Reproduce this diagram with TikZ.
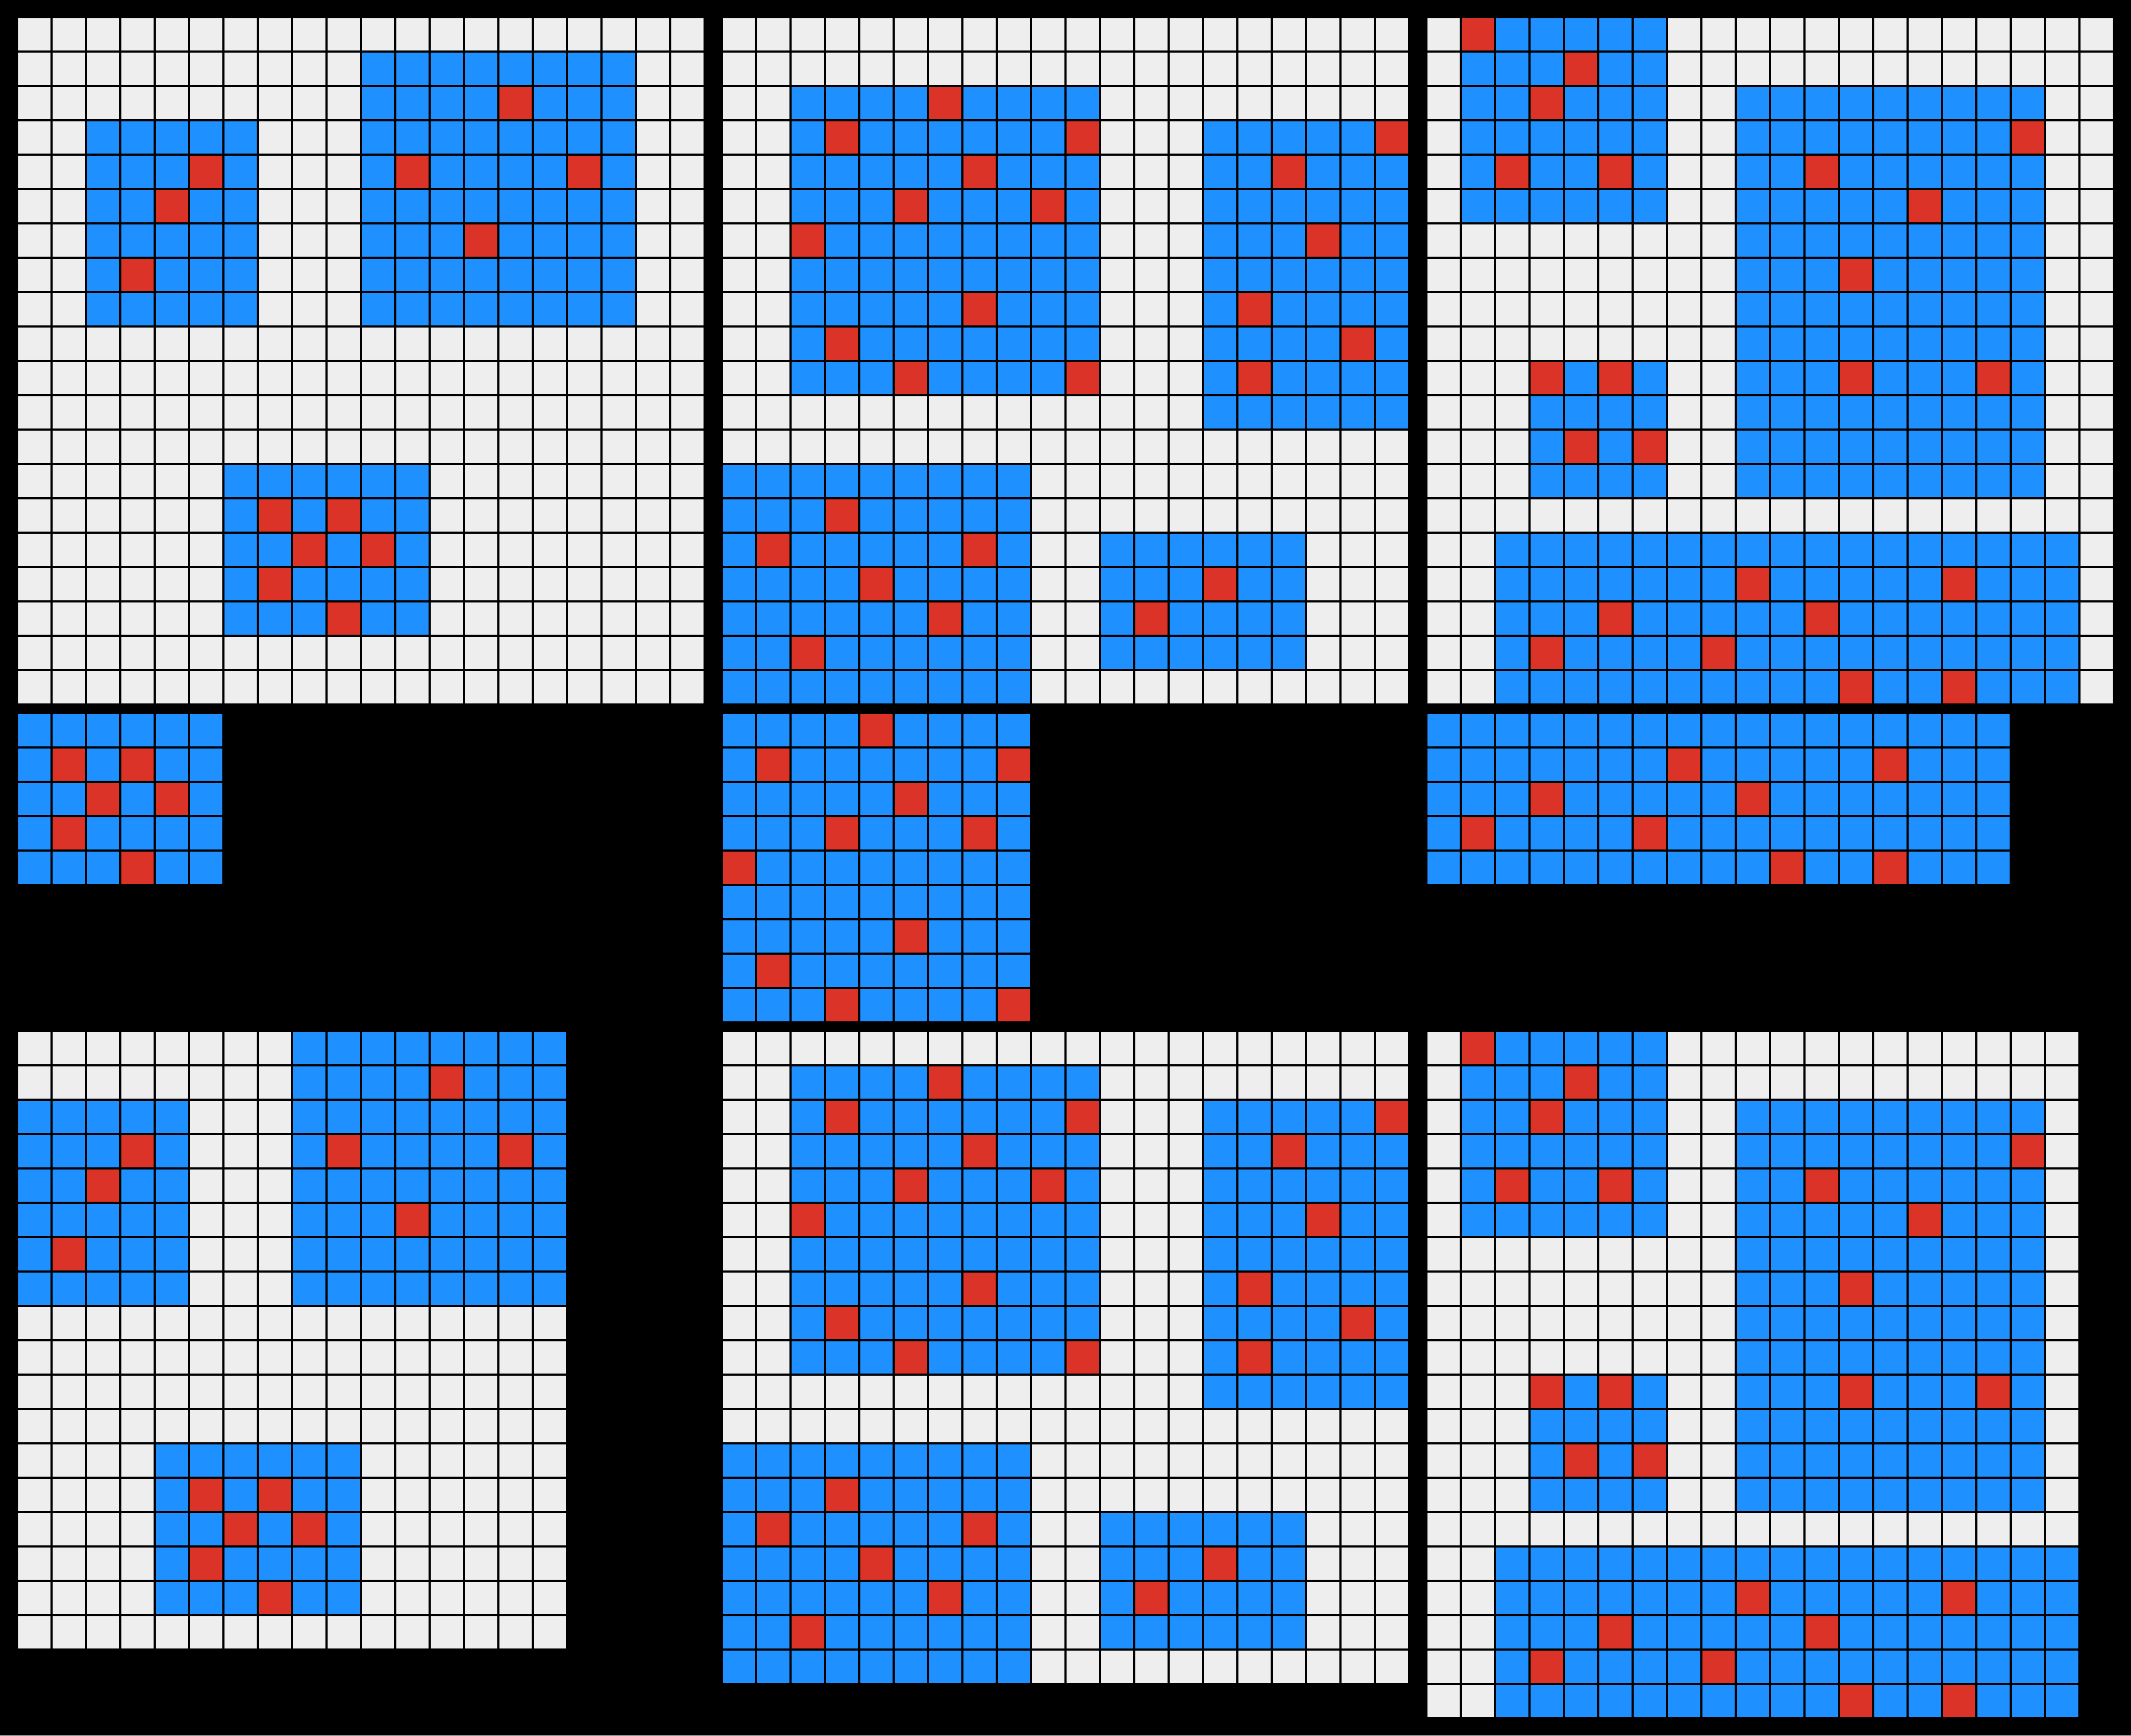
\documentclass[tikz,border=0pt]{standalone}
\usepackage{tikz}
\usepackage{xcolor}
\definecolor{cellgray}{RGB}{238,238,238}
\definecolor{cellblue}{RGB}{30,144,255}
\definecolor{cellred}{RGB}{220,51,40}

% grid helpers (cell units, rows counted downwards)
\newcommand{\gridlines}[2]{%
  \foreach \i in {0,...,#1} \draw[gridline] (\i,0) -- (\i,#2);
  \foreach \j in {0,...,#2} \draw[gridline] (0,\j) -- (#1,\j);}
\newcommand{\redcells}[1]{%
  \foreach \c/\r in {#1} \fill[redcell] (\c,\r) rectangle ++(1,1);}

\begin{document}
\begin{tikzpicture}[
        x=0.5cm, y=-0.5cm,
        bgcell/.style={fill=cellgray},
        bluecell/.style={fill=cellblue},
        redcell/.style={fill=cellred},
        gridline/.style={draw=black, line width=0.7pt}
    ]
        \fill[black] (0,0) rectangle (62,50.5);

        % Example 1 input
        \begin{scope}[shift={(0.5,0.5)}]
            \fill[bgcell] (0,0) rectangle (20,20);
            \fill[bluecell] (2,3) rectangle (7,9);
            \fill[bluecell] (10,1) rectangle (18,9);
            \fill[bluecell] (6,13) rectangle (12,18);
            \redcells{5/4, 4/5, 3/7}
            \redcells{14/2, 11/4, 16/4, 13/6}
            \redcells{7/14, 9/14, 8/15, 10/15, 7/16, 9/17}
            \gridlines{20}{20}
        \end{scope}

        % Example 1 output
        \begin{scope}[shift={(0.5,20.75)}]
            \fill[bluecell] (0,0) rectangle (6,5);
            \redcells{1/1, 3/1, 2/2, 4/2, 1/3, 3/4}
            \gridlines{6}{5}
        \end{scope}

        % Example 2 input
        \begin{scope}[shift={(21,0.5)}]
            \fill[bgcell] (0,0) rectangle (20,20);
            \fill[bluecell] (2,2) rectangle (11,11);
            \fill[bluecell] (14,3) rectangle (20,12);
            \fill[bluecell] (0,13) rectangle (9,20);
            \fill[bluecell] (11,15) rectangle (17,19);
            \redcells{6/2, 3/3, 10/3, 7/4, 5/5, 9/5, 2/6, 7/8, 3/9, 5/10, 10/10}
            \redcells{19/3, 16/4, 17/6, 15/8, 18/9, 15/10}
            \redcells{3/14, 1/15, 7/15, 4/16, 6/17, 2/18}
            \redcells{14/16, 12/17}
            \gridlines{20}{20}
        \end{scope}

        % Example 2 output
        \begin{scope}[shift={(21,20.75)}]
            \fill[bluecell] (0,0) rectangle (9,9);
            \redcells{4/0, 1/1, 8/1, 5/2, 3/3, 7/3, 0/4, 5/6, 1/7, 3/8, 8/8}
            \gridlines{9}{9}
        \end{scope}

        % Example 3 input
        \begin{scope}[shift={(41.5,0.5)}]
            \fill[bgcell] (0,0) rectangle (20,20);
            \fill[bluecell] (1,0) rectangle (7,6);
            \fill[bluecell] (9,2) rectangle (18,14);
            \fill[bluecell] (3,10) rectangle (7,14);
            \fill[bluecell] (2,15) rectangle (19,20);
            \redcells{1/0, 4/1, 3/2, 2/4, 5/4}
            \redcells{17/3, 11/4, 14/5, 12/7, 12/10, 16/10}
            \redcells{3/10, 5/10, 4/12, 6/12}
            \redcells{9/16, 15/16, 5/17, 11/17, 3/18, 8/18, 12/19, 15/19}
            \gridlines{20}{20}
        \end{scope}

        % Example 3 output
        \begin{scope}[shift={(41.5,20.75)}]
            \fill[bluecell] (0,0) rectangle (17,5);
            \redcells{7/1, 13/1, 3/2, 9/2, 1/3, 6/3, 10/4, 13/4}
            \gridlines{17}{5}
        \end{scope}

        % Test 1
        \begin{scope}[shift={(0.5,30)}]
            \fill[bgcell] (0,0) rectangle (16,18);
            \fill[bluecell] (0,2) rectangle (5,8);
            \fill[bluecell] (8,0) rectangle (16,8);
            \fill[bluecell] (4,12) rectangle (10,17);
            \redcells{3/3, 2/4, 1/6}
            \redcells{12/1, 9/3, 14/3, 11/5}
            \redcells{5/13, 7/13, 6/14, 8/14, 5/15, 7/16}
            \gridlines{16}{18}
        \end{scope}

        % Test 2
        \begin{scope}[shift={(21,30)}]
            \fill[bgcell] (0,0) rectangle (20,19);
            \fill[bluecell] (2,1) rectangle (11,10);
            \fill[bluecell] (14,2) rectangle (20,11);
            \fill[bluecell] (0,12) rectangle (9,19);
            \fill[bluecell] (11,14) rectangle (17,18);
            \redcells{6/1, 3/2, 10/2, 7/3, 5/4, 9/4, 2/5, 7/7, 3/8, 5/9, 10/9}
            \redcells{19/2, 16/3, 17/5, 15/7, 18/8, 15/9}
            \redcells{3/13, 1/14, 7/14, 4/15, 6/16, 2/17}
            \redcells{14/15, 12/16}
            \gridlines{20}{19}
        \end{scope}

        % Test 3
        \begin{scope}[shift={(41.5,30)}]
            \fill[bgcell] (0,0) rectangle (19,20);
            \fill[bluecell] (1,0) rectangle (7,6);
            \fill[bluecell] (9,2) rectangle (18,14);
            \fill[bluecell] (3,10) rectangle (7,14);
            \fill[bluecell] (2,15) rectangle (19,20);
            \redcells{1/0, 4/1, 3/2, 2/4, 5/4}
            \redcells{17/3, 11/4, 14/5, 12/7, 12/10, 16/10}
            \redcells{3/10, 5/10, 4/12, 6/12}
            \redcells{9/16, 15/16, 5/17, 11/17, 3/18, 8/18, 12/19, 15/19}
            \gridlines{19}{20}
        \end{scope}

    \end{tikzpicture}
\end{document}
